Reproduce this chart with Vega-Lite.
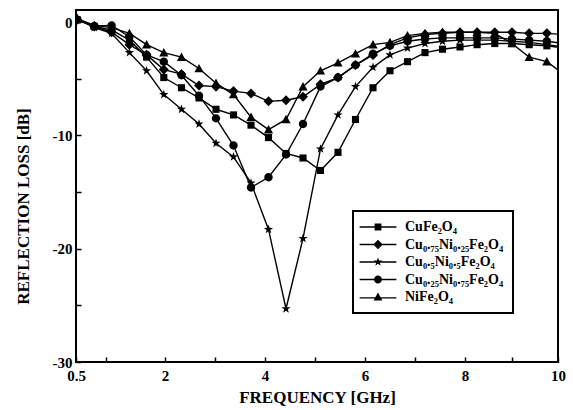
{
  "$schema": "https://vega.github.io/schema/vega-lite/v6.json",
  "width": 482,
  "height": 352,
  "autosize": "none",
  "padding": {"left": 76, "top": 10, "right": 15, "bottom": 48},
  "background": "white",
  "config": {
    "view": {"stroke": "black", "strokeWidth": 2},
    "font": "Liberation Serif",
    "legend": {"strokeWidth": 2},
    "axis": {"labelFont": "Liberation Serif", "titleFont": "Liberation Serif", "labelFontWeight": "bold", "titleFontWeight": "bold", "labelColor": "black", "titleColor": "black", "tickColor": "black", "grid": false, "domain": false}
  },
  "data": {"values": [
    {"f":0.52,"s":"CuFe₂O₄","rl":0.2},{"f":0.81,"s":"CuFe₂O₄","rl":-0.4},{"f":1.10,"s":"CuFe₂O₄","rl":-0.7},{"f":1.40,"s":"CuFe₂O₄","rl":-1.6},{"f":1.69,"s":"CuFe₂O₄","rl":-3.1},{"f":1.98,"s":"CuFe₂O₄","rl":-4.9},{"f":2.33,"s":"CuFe₂O₄","rl":-5.8},{"f":2.68,"s":"CuFe₂O₄","rl":-6.7},{"f":3.02,"s":"CuFe₂O₄","rl":-7.7},{"f":3.37,"s":"CuFe₂O₄","rl":-8.2},{"f":3.72,"s":"CuFe₂O₄","rl":-9.1},{"f":4.07,"s":"CuFe₂O₄","rl":-10.2},{"f":4.42,"s":"CuFe₂O₄","rl":-11.6},{"f":4.76,"s":"CuFe₂O₄","rl":-12.0},{"f":5.11,"s":"CuFe₂O₄","rl":-13.1},{"f":5.46,"s":"CuFe₂O₄","rl":-11.5},{"f":5.81,"s":"CuFe₂O₄","rl":-8.6},{"f":6.16,"s":"CuFe₂O₄","rl":-5.8},{"f":6.50,"s":"CuFe₂O₄","rl":-4.3},{"f":6.85,"s":"CuFe₂O₄","rl":-3.5},{"f":7.20,"s":"CuFe₂O₄","rl":-2.7},{"f":7.55,"s":"CuFe₂O₄","rl":-2.4},{"f":7.90,"s":"CuFe₂O₄","rl":-2.2},{"f":8.26,"s":"CuFe₂O₄","rl":-2.0},{"f":8.64,"s":"CuFe₂O₄","rl":-1.9},{"f":9.01,"s":"CuFe₂O₄","rl":-1.9},{"f":9.38,"s":"CuFe₂O₄","rl":-2.0},{"f":9.76,"s":"CuFe₂O₄","rl":-2.1},{"f":10.13,"s":"CuFe₂O₄","rl":-2.3},
    {"f":0.52,"s":"Cu₀.₇₅Ni₀.₂₅Fe₂O₄","rl":0.2},{"f":0.81,"s":"Cu₀.₇₅Ni₀.₂₅Fe₂O₄","rl":-0.4},{"f":1.10,"s":"Cu₀.₇₅Ni₀.₂₅Fe₂O₄","rl":-0.9},{"f":1.40,"s":"Cu₀.₇₅Ni₀.₂₅Fe₂O₄","rl":-2.0},{"f":1.69,"s":"Cu₀.₇₅Ni₀.₂₅Fe₂O₄","rl":-2.9},{"f":1.98,"s":"Cu₀.₇₅Ni₀.₂₅Fe₂O₄","rl":-4.2},{"f":2.33,"s":"Cu₀.₇₅Ni₀.₂₅Fe₂O₄","rl":-4.6},{"f":2.68,"s":"Cu₀.₇₅Ni₀.₂₅Fe₂O₄","rl":-5.6},{"f":3.02,"s":"Cu₀.₇₅Ni₀.₂₅Fe₂O₄","rl":-5.7},{"f":3.37,"s":"Cu₀.₇₅Ni₀.₂₅Fe₂O₄","rl":-6.1},{"f":3.72,"s":"Cu₀.₇₅Ni₀.₂₅Fe₂O₄","rl":-6.3},{"f":4.07,"s":"Cu₀.₇₅Ni₀.₂₅Fe₂O₄","rl":-7.0},{"f":4.42,"s":"Cu₀.₇₅Ni₀.₂₅Fe₂O₄","rl":-6.9},{"f":4.76,"s":"Cu₀.₇₅Ni₀.₂₅Fe₂O₄","rl":-6.6},{"f":5.11,"s":"Cu₀.₇₅Ni₀.₂₅Fe₂O₄","rl":-5.5},{"f":5.46,"s":"Cu₀.₇₅Ni₀.₂₅Fe₂O₄","rl":-4.9},{"f":5.81,"s":"Cu₀.₇₅Ni₀.₂₅Fe₂O₄","rl":-3.8},{"f":6.16,"s":"Cu₀.₇₅Ni₀.₂₅Fe₂O₄","rl":-2.9},{"f":6.50,"s":"Cu₀.₇₅Ni₀.₂₅Fe₂O₄","rl":-2.0},{"f":6.85,"s":"Cu₀.₇₅Ni₀.₂₅Fe₂O₄","rl":-1.4},{"f":7.20,"s":"Cu₀.₇₅Ni₀.₂₅Fe₂O₄","rl":-1.1},{"f":7.55,"s":"Cu₀.₇₅Ni₀.₂₅Fe₂O₄","rl":-1.0},{"f":7.90,"s":"Cu₀.₇₅Ni₀.₂₅Fe₂O₄","rl":-0.9},{"f":8.26,"s":"Cu₀.₇₅Ni₀.₂₅Fe₂O₄","rl":-0.9},{"f":8.64,"s":"Cu₀.₇₅Ni₀.₂₅Fe₂O₄","rl":-0.9},{"f":9.01,"s":"Cu₀.₇₅Ni₀.₂₅Fe₂O₄","rl":-0.9},{"f":9.38,"s":"Cu₀.₇₅Ni₀.₂₅Fe₂O₄","rl":-1.0},{"f":9.76,"s":"Cu₀.₇₅Ni₀.₂₅Fe₂O₄","rl":-1.0},{"f":10.13,"s":"Cu₀.₇₅Ni₀.₂₅Fe₂O₄","rl":-1.1},
    {"f":0.52,"s":"Cu₀.₅Ni₀.₅Fe₂O₄","rl":0.3},{"f":0.81,"s":"Cu₀.₅Ni₀.₅Fe₂O₄","rl":-0.5},{"f":1.10,"s":"Cu₀.₅Ni₀.₅Fe₂O₄","rl":-1.0},{"f":1.40,"s":"Cu₀.₅Ni₀.₅Fe₂O₄","rl":-2.7},{"f":1.69,"s":"Cu₀.₅Ni₀.₅Fe₂O₄","rl":-4.3},{"f":1.98,"s":"Cu₀.₅Ni₀.₅Fe₂O₄","rl":-6.4},{"f":2.33,"s":"Cu₀.₅Ni₀.₅Fe₂O₄","rl":-7.7},{"f":2.68,"s":"Cu₀.₅Ni₀.₅Fe₂O₄","rl":-9.0},{"f":3.02,"s":"Cu₀.₅Ni₀.₅Fe₂O₄","rl":-10.7},{"f":3.37,"s":"Cu₀.₅Ni₀.₅Fe₂O₄","rl":-11.9},{"f":3.72,"s":"Cu₀.₅Ni₀.₅Fe₂O₄","rl":-14.2},{"f":4.07,"s":"Cu₀.₅Ni₀.₅Fe₂O₄","rl":-18.3},{"f":4.42,"s":"Cu₀.₅Ni₀.₅Fe₂O₄","rl":-25.3},{"f":4.76,"s":"Cu₀.₅Ni₀.₅Fe₂O₄","rl":-19.1},{"f":5.11,"s":"Cu₀.₅Ni₀.₅Fe₂O₄","rl":-11.2},{"f":5.46,"s":"Cu₀.₅Ni₀.₅Fe₂O₄","rl":-8.2},{"f":5.81,"s":"Cu₀.₅Ni₀.₅Fe₂O₄","rl":-5.7},{"f":6.16,"s":"Cu₀.₅Ni₀.₅Fe₂O₄","rl":-4.0},{"f":6.50,"s":"Cu₀.₅Ni₀.₅Fe₂O₄","rl":-2.9},{"f":6.85,"s":"Cu₀.₅Ni₀.₅Fe₂O₄","rl":-2.3},{"f":7.20,"s":"Cu₀.₅Ni₀.₅Fe₂O₄","rl":-1.9},{"f":7.55,"s":"Cu₀.₅Ni₀.₅Fe₂O₄","rl":-1.7},{"f":7.90,"s":"Cu₀.₅Ni₀.₅Fe₂O₄","rl":-1.6},{"f":8.26,"s":"Cu₀.₅Ni₀.₅Fe₂O₄","rl":-1.6},{"f":8.64,"s":"Cu₀.₅Ni₀.₅Fe₂O₄","rl":-1.6},{"f":9.01,"s":"Cu₀.₅Ni₀.₅Fe₂O₄","rl":-1.7},{"f":9.38,"s":"Cu₀.₅Ni₀.₅Fe₂O₄","rl":-1.8},{"f":9.76,"s":"Cu₀.₅Ni₀.₅Fe₂O₄","rl":-2.0},{"f":10.13,"s":"Cu₀.₅Ni₀.₅Fe₂O₄","rl":-2.2},
    {"f":0.52,"s":"Cu₀.₂₅Ni₀.₇₅Fe₂O₄","rl":0.2},{"f":0.81,"s":"Cu₀.₂₅Ni₀.₇₅Fe₂O₄","rl":-0.35},{"f":1.10,"s":"Cu₀.₂₅Ni₀.₇₅Fe₂O₄","rl":-0.3},{"f":1.40,"s":"Cu₀.₂₅Ni₀.₇₅Fe₂O₄","rl":-1.3},{"f":1.69,"s":"Cu₀.₂₅Ni₀.₇₅Fe₂O₄","rl":-2.9},{"f":1.98,"s":"Cu₀.₂₅Ni₀.₇₅Fe₂O₄","rl":-3.5},{"f":2.33,"s":"Cu₀.₂₅Ni₀.₇₅Fe₂O₄","rl":-4.7},{"f":2.68,"s":"Cu₀.₂₅Ni₀.₇₅Fe₂O₄","rl":-6.5},{"f":3.02,"s":"Cu₀.₂₅Ni₀.₇₅Fe₂O₄","rl":-8.5},{"f":3.37,"s":"Cu₀.₂₅Ni₀.₇₅Fe₂O₄","rl":-10.9},{"f":3.72,"s":"Cu₀.₂₅Ni₀.₇₅Fe₂O₄","rl":-14.6},{"f":4.07,"s":"Cu₀.₂₅Ni₀.₇₅Fe₂O₄","rl":-13.7},{"f":4.42,"s":"Cu₀.₂₅Ni₀.₇₅Fe₂O₄","rl":-11.7},{"f":4.76,"s":"Cu₀.₂₅Ni₀.₇₅Fe₂O₄","rl":-9.0},{"f":5.11,"s":"Cu₀.₂₅Ni₀.₇₅Fe₂O₄","rl":-5.7},{"f":5.46,"s":"Cu₀.₂₅Ni₀.₇₅Fe₂O₄","rl":-4.9},{"f":5.81,"s":"Cu₀.₂₅Ni₀.₇₅Fe₂O₄","rl":-3.8},{"f":6.16,"s":"Cu₀.₂₅Ni₀.₇₅Fe₂O₄","rl":-2.8},{"f":6.50,"s":"Cu₀.₂₅Ni₀.₇₅Fe₂O₄","rl":-2.1},{"f":6.85,"s":"Cu₀.₂₅Ni₀.₇₅Fe₂O₄","rl":-1.7},{"f":7.20,"s":"Cu₀.₂₅Ni₀.₇₅Fe₂O₄","rl":-1.5},{"f":7.55,"s":"Cu₀.₂₅Ni₀.₇₅Fe₂O₄","rl":-1.4},{"f":7.90,"s":"Cu₀.₂₅Ni₀.₇₅Fe₂O₄","rl":-1.4},{"f":8.26,"s":"Cu₀.₂₅Ni₀.₇₅Fe₂O₄","rl":-1.4},{"f":8.64,"s":"Cu₀.₂₅Ni₀.₇₅Fe₂O₄","rl":-1.4},{"f":9.01,"s":"Cu₀.₂₅Ni₀.₇₅Fe₂O₄","rl":-1.5},{"f":9.38,"s":"Cu₀.₂₅Ni₀.₇₅Fe₂O₄","rl":-1.6},{"f":9.76,"s":"Cu₀.₂₅Ni₀.₇₅Fe₂O₄","rl":-1.7},{"f":10.13,"s":"Cu₀.₂₅Ni₀.₇₅Fe₂O₄","rl":-1.9},
    {"f":0.52,"s":"NiFe₂O₄","rl":0.3},{"f":0.81,"s":"NiFe₂O₄","rl":-0.3},{"f":1.10,"s":"NiFe₂O₄","rl":-0.5},{"f":1.40,"s":"NiFe₂O₄","rl":-1.0},{"f":1.69,"s":"NiFe₂O₄","rl":-2.0},{"f":1.98,"s":"NiFe₂O₄","rl":-2.7},{"f":2.33,"s":"NiFe₂O₄","rl":-3.1},{"f":2.68,"s":"NiFe₂O₄","rl":-4.1},{"f":3.02,"s":"NiFe₂O₄","rl":-5.4},{"f":3.37,"s":"NiFe₂O₄","rl":-6.4},{"f":3.72,"s":"NiFe₂O₄","rl":-8.4},{"f":4.07,"s":"NiFe₂O₄","rl":-9.5},{"f":4.42,"s":"NiFe₂O₄","rl":-8.6},{"f":4.76,"s":"NiFe₂O₄","rl":-5.7},{"f":5.11,"s":"NiFe₂O₄","rl":-4.3},{"f":5.46,"s":"NiFe₂O₄","rl":-3.6},{"f":5.81,"s":"NiFe₂O₄","rl":-2.8},{"f":6.16,"s":"NiFe₂O₄","rl":-2.0},{"f":6.50,"s":"NiFe₂O₄","rl":-1.8},{"f":6.85,"s":"NiFe₂O₄","rl":-1.2},{"f":7.20,"s":"NiFe₂O₄","rl":-1.0},{"f":7.55,"s":"NiFe₂O₄","rl":-0.9},{"f":7.90,"s":"NiFe₂O₄","rl":-0.9},{"f":8.26,"s":"NiFe₂O₄","rl":-0.9},{"f":8.64,"s":"NiFe₂O₄","rl":-1.0},{"f":9.01,"s":"NiFe₂O₄","rl":-1.9},{"f":9.38,"s":"NiFe₂O₄","rl":-3.1},{"f":9.76,"s":"NiFe₂O₄","rl":-3.5},{"f":10.13,"s":"NiFe₂O₄","rl":-4.6}
  ]},
  "encoding": {
    "x": {"field": "f", "type": "quantitative",
      "scale": {"domain": [0.5, 2, 8, 10], "range": [0, 89, 389, 482], "nice": false, "zero": false},
      "axis": {"title": "FREQUENCY  [GHz]", "values": [0.5,1,2,3,4,5,6,7,8,9,10],
        "labelExpr": "(datum.value == 0.5 || datum.value % 2 == 0) ? '' + datum.value : ''",
        "labelFontSize": 15, "titleFontSize": 17, "tickSize": -5, "tickWidth": 1.5, "labelPadding": 11, "titlePadding": 6, "labelFlush": false}},
    "y": {"field": "rl", "type": "quantitative",
      "scale": {"domain": [-30, 1.06], "nice": false, "zero": false},
      "axis": {"title": "REFLECTION  LOSS  [dB]", "values": [-30,-25,-20,-15,-10,-5,0],
        "labelExpr": "datum.value % 10 == 0 ? '' + datum.value : ''",
        "labelFontSize": 15, "titleFontSize": 17, "tickSize": -5, "tickWidth": 1.5, "labelPadding": 9, "titlePadding": 20, "titleY": 196}}
  },
  "layer": [
    {"mark": {"type": "line", "color": "black", "strokeWidth": 1.4, "clip": true},
     "encoding": {"detail": {"field": "s"}}},
    {"mark": {"type": "point", "filled": true, "color": "black", "opacity": 1, "size": 70, "clip": true},
     "encoding": {"shape": {"field": "s", "legend": null,
       "scale": {"domain": ["CuFe₂O₄","Cu₀.₇₅Ni₀.₂₅Fe₂O₄","Cu₀.₅Ni₀.₅Fe₂O₄","Cu₀.₂₅Ni₀.₇₅Fe₂O₄","NiFe₂O₄"],
         "range": ["M-0.85,-0.85H0.85V0.85H-0.85Z", "M0,-1.2L1.2,0L0,1.2L-1.2,0Z", "M0,-1.15L0.27,-0.37L1.1,-0.36L0.44,0.14L0.68,0.93L0,0.46L-0.68,0.93L-0.44,0.14L-1.1,-0.36L-0.27,-0.37Z", "M-1,0A1,1 0 1,0 1,0A1,1 0 1,0 -1,0Z", "M0,-1.1L1.1,0.9H-1.1Z"]}}}},
    {"mark": {"type": "point", "filled": true, "color": "black", "opacity": 0, "size": 64},
     "encoding": {"shape": {"field": "s",
       "scale": {"domain": ["CuFe₂O₄","Cu₀.₇₅Ni₀.₂₅Fe₂O₄","Cu₀.₅Ni₀.₅Fe₂O₄","Cu₀.₂₅Ni₀.₇₅Fe₂O₄","NiFe₂O₄"],
         "range": ["M-4.6,-0.16H4.6V0.16H-4.6ZM-0.85,-0.85H0.85V0.85H-0.85Z", "M-4.6,-0.16H4.6V0.16H-4.6ZM0,-1.2L1.2,0L0,1.2L-1.2,0Z", "M-4.6,-0.16H4.6V0.16H-4.6ZM0,-1.15L0.27,-0.37L1.1,-0.36L0.44,0.14L0.68,0.93L0,0.46L-0.68,0.93L-0.44,0.14L-1.1,-0.36L-0.27,-0.37Z", "M-4.6,-0.16H4.6V0.16H-4.6ZM-1,0A1,1 0 1,1 1,0A1,1 0 1,1 -1,0Z", "M-4.6,0.04H4.6V0.36H-4.6ZM0,-1.1L1.1,0.9H-1.1Z"]},
       "legend": {"title": null, "orient": "none", "legendX": 277, "legendY": 201,
         "symbolOpacity": 1, "symbolFillColor": "black", "symbolStrokeColor": "black", "symbolStrokeWidth": 0, "symbolSize": 64,
         "symbolOffset": 9, "labelOffset": 20, "labelFont": "Liberation Serif", "labelFontWeight": "bold", "labelFontSize": 14, "labelColor": "black",
         "rowPadding": 3.5, "padding": 9, "strokeColor": "black", "fillColor": "white", "labelLimit": 300}}}}
  ],
  "resolve": {"scale": {"shape": "independent"}}
}
